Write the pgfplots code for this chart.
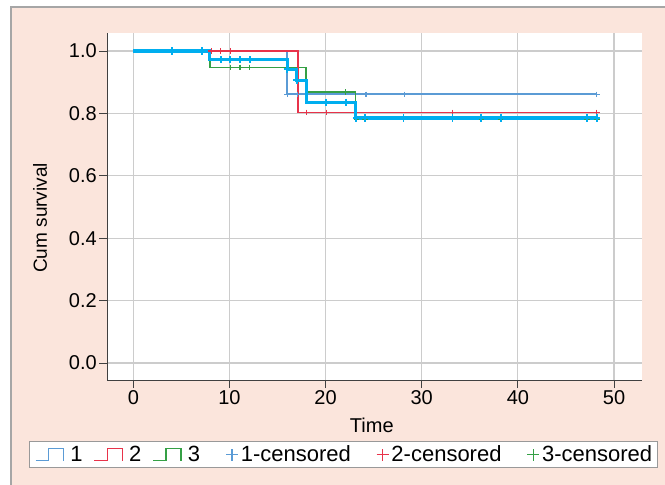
\documentclass[border=0pt]{standalone}
\usepackage{pgfplots}
\pgfplotsset{compat=1.18}
\usepackage{fontspec}
\setmainfont{Liberation Sans}
\definecolor{bgpink}{HTML}{FBE5DC}
\definecolor{cblue}{HTML}{5B9BD5}
\definecolor{cred}{HTML}{E8334A}
\definecolor{cgreen}{HTML}{35A045}
\definecolor{ccyan}{HTML}{00AEEF}
\pgfplotsset{
  steplegend/.style={legend image code/.code={%
    \draw[##1] (0pt,-6pt) -- (13pt,-6pt) -- (13pt,6pt) -- (28pt,6pt) -- (28pt,-6pt);}},
  censlegend/.style={legend image code/.code={%
    \draw[##1] (0pt,0pt) -- (12pt,0pt);
    \draw[##1] (6pt,-6pt) -- (6pt,6pt);}},
}
\begin{document}
\begin{tikzpicture}[x=1pt,y=1pt]
\path[use as bounding box] (0,0) rectangle (665,485);
\fill[bgpink] (11,0) rectangle (665,478);
\draw[black!35, line width=1.2pt] (11,0) -- (11,478) -- (665,478);
\begin{axis}[
  at={(107pt,105pt)}, anchor=south west,
  scale only axis, width=535pt, height=347pt,
  xmin=-2.74, xmax=52.91, ymin=-0.0545, ymax=1.0577,
  axis x line*=bottom, axis y line*=left,
  axis line style={black!75, line width=0.9pt, -},
  tick align=outside, major tick length=8pt,
  tick style={black!75, line width=0.9pt},
  xtick={0,10,20,30,40,50},
  ytick={0,0.2,0.4,0.6,0.8,1},
  yticklabel style={/pgf/number format/.cd, fixed, fixed zerofill, precision=1},
  /pgf/number format/assume math mode=true,
  grid=major, major grid style={black!20, line width=1.2pt},
  axis background/.style={fill=white},
  tick label style={font=\fontsize{20}{20}\selectfont, inner sep=2pt},
  xlabel={Time}, ylabel={Cum survival},
  xlabel style={font=\fontsize{20}{20}\selectfont, at={(axis description cs:0.495,-0.13)}, anchor=center},
  ylabel style={font=\fontsize{19}{19}\selectfont, at={(axis description cs:-0.125,0.467)}, anchor=center},
  legend style={at={(axis description cs:0.442,-0.2147)}, anchor=center,
    legend columns=6, draw=black!40, line width=0.8pt, fill=white,
    font=\fontsize{22}{22}\selectfont, inner xsep=5pt, inner ysep=2pt,
    column sep=0pt, nodes={inner xsep=0pt, inner ysep=2pt}},
]
\addlegendimage{steplegend, cblue, line width=1.6pt}
\addlegendentry{\hspace*{6pt}1\hspace*{11pt}}
\addlegendimage{steplegend, cred, line width=1.6pt}
\addlegendentry{\hspace*{6pt}2\hspace*{11pt}}
\addlegendimage{steplegend, cgreen, line width=1.6pt}
\addlegendentry{\hspace*{6pt}3\hspace*{25pt}}
\addlegendimage{censlegend, cblue, line width=1.6pt}
\addlegendentry{\hspace*{2pt}1-censored\hspace*{25pt}}
\addlegendimage{censlegend, cred, line width=1.6pt}
\addlegendentry{\hspace*{2pt}2-censored\hspace*{25pt}}
\addlegendimage{censlegend, cgreen, line width=1.6pt}
\addlegendentry{\hspace*{2pt}3-censored}

% group 1
\addplot[cblue, line width=1.8pt, forget plot] coordinates {(0,1) (16,1) (16,0.861) (48.2,0.861)};
\addplot[cblue, only marks, mark=+, mark size=2.8pt, mark options={line width=1.3pt}, forget plot] coordinates {(16.0,0.861) (17.1,0.861) (24.2,0.861) (28.2,0.861) (48.2,0.861)};
% group 3
\addplot[cgreen, line width=1.8pt, forget plot] coordinates {(0,1) (8.0,1) (8.0,0.947) (18.0,0.947) (18.0,0.868) (23.1,0.868) (23.1,0.781) (48.2,0.781)};
\addplot[cgreen, only marks, mark=+, mark size=2.8pt, mark options={line width=1.3pt}, forget plot] coordinates {(10.1,0.947) (11.1,0.947) (12.1,0.947) (22.1,0.868) (23.2,0.781) (24.1,0.781) (36.2,0.781) (38.2,0.781) (47.2,0.781) (48.2,0.781)};
% group 2
\addplot[cred, line width=1.8pt, forget plot] coordinates {(0,1) (17.1,1) (17.1,0.803) (48.2,0.803)};
\addplot[cred, only marks, mark=+, mark size=2.8pt, mark options={line width=1.3pt}, forget plot] coordinates {(8.1,1) (9.1,1) (10.1,1) (18.0,0.803) (20.1,0.803) (33.2,0.803) (48.2,0.803)};
% overall
\addplot[ccyan, line width=3.2pt, forget plot] coordinates {(0,1) (7.9,1) (7.9,0.972) (16.0,0.972) (16.0,0.941) (17.0,0.941) (17.0,0.906) (18.0,0.906) (18.0,0.836) (23.1,0.836) (23.1,0.785) (48.2,0.785)};
\addplot[ccyan, only marks, mark=+, mark size=3.6pt, mark options={line width=1.9pt}, forget plot] coordinates {(4.0,1) (7.1,1) (9.1,0.972) (10.1,0.972) (11.1,0.972) (12.1,0.972) (16.0,0.941) (17.0,0.906) (20.0,0.836) (22.1,0.836) (23.2,0.785) (24.1,0.785) (28.1,0.785) (33.2,0.785) (36.2,0.785) (38.2,0.785) (47.2,0.785) (48.2,0.785)};
\end{axis}
\end{tikzpicture}
\end{document}
